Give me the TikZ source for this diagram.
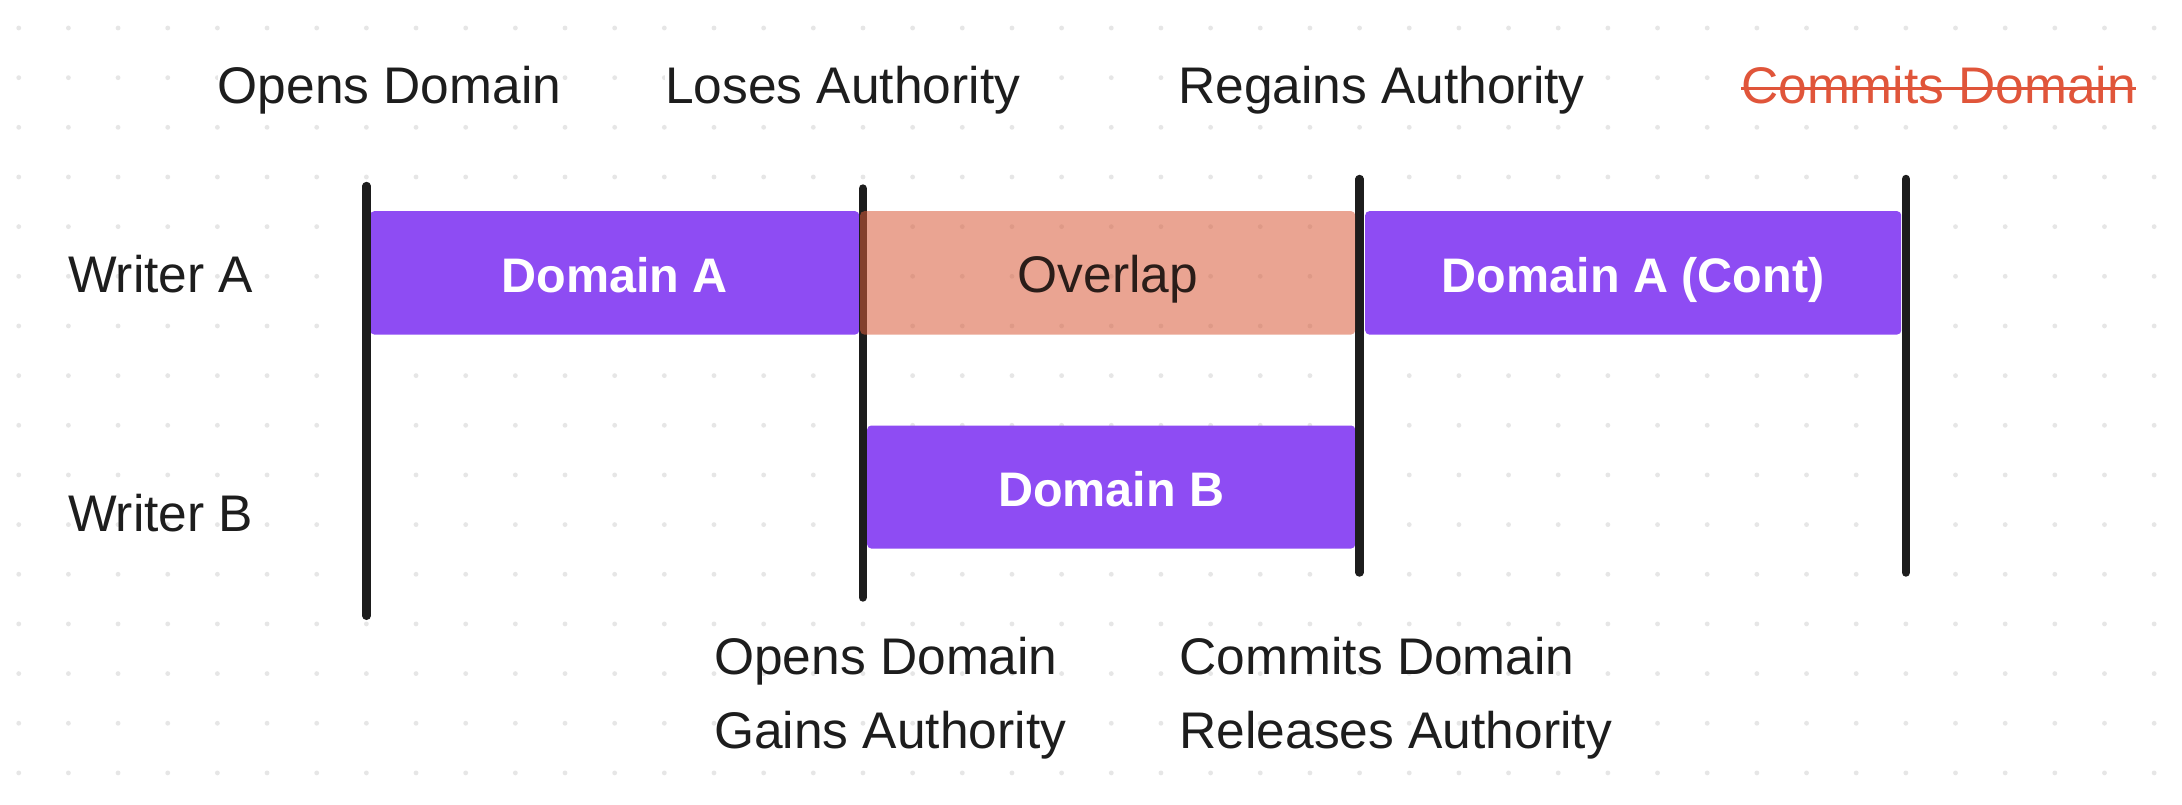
\documentclass[tikz,border=0pt]{standalone}
\usepackage{fontspec}
\setmainfont{Liberation Sans}
\definecolor{ink}{HTML}{1D1D1D}
\definecolor{purp}{HTML}{8E4CF3}
\definecolor{ovl}{HTML}{D95B39}
\definecolor{redt}{HTML}{E0553A}
\definecolor{dotc}{HTML}{E6E6E6}
\definecolor{ovtext}{HTML}{2A1D19}
\begin{document}
\begin{tikzpicture}[x=1pt,y=-1pt,
  lbl/.style={inner sep=0pt, anchor=base west, text=ink, font=\fontsize{51.5}{60}\selectfont},
  toplbl/.style={lbl, fill=white},
  bar/.style={draw=none, fill=purp, rounded corners=4pt, inner sep=0pt, anchor=north west, minimum height=123.3pt},
  barlbl/.style={inner sep=0pt, anchor=base, text=white, font=\fontsize{48.5}{58}\selectfont\bfseries},
  tick/.style={line width=8.4pt, line cap=round, draw=ink},
  strike/.style={line width=3pt, draw=redt}
  ]
  % canvas
  \fill[white] (0,0) rectangle (2182,804);
  \useasboundingbox (0,0) rectangle (2182,804);
  % dot grid
  \foreach \i in {0,...,43} {
    \foreach \j in {0,...,15} {
      \fill[dotc] (18.75+49.66*\i, 28+49.66*\j) circle (2.4pt);
    }
  }
  % bars
  \node[bar, minimum width=489pt] (barA) at (370,211) {};
  \node[bar, minimum width=536pt] (barC) at (1365,211) {};
  \node[bar, minimum width=488pt, minimum height=123pt] (barB) at (867,425.3) {};
  % timeline ticks
  \coordinate (t1a) at (366.6,186);   \coordinate (t1b) at (366.6,615.8);
  \coordinate (t2a) at (862.7,188.5); \coordinate (t2b) at (862.7,597.5);
  \coordinate (t3a) at (1359.6,179);  \coordinate (t3b) at (1359.6,572.5);
  \coordinate (t4a) at (1905.9,179);  \coordinate (t4b) at (1905.9,572.5);
  \draw[tick] (t1a) -- (t1b);
  \draw[tick] (t2a) -- (t2b);
  \draw[tick] (t3a) -- (t3b);
  \draw[tick] (t4a) -- (t4b);
  % overlap (semi-transparent, over the tick)
  \node[bar, fill=ovl, fill opacity=0.55, minimum width=495pt] (ovbar) at (860,211) {};
  % bar labels
  \node[barlbl] (lA) at ([yshift=-19.8pt]barA.center) {Domain A};
  \node[barlbl] (lC) at ([yshift=-19.8pt]barC.center) {Domain A (Cont)};
  \node[barlbl] (lB) at ([yshift=-19.5pt]barB.center) {Domain B};
  \node[lbl, anchor=base, text=ovtext] (lO) at ([yshift=-19.5pt]ovbar.center) {Overlap};
  % writer labels
  \node[lbl] (wa) at (68,292.7) {Writer A};
  \node[lbl] (wb) at (68,531.7) {Writer B};
  % top labels
  \node[toplbl] (topen) at (217.5,103) {Opens Domain};
  \node[toplbl] (tlose) at (665,103) {Loses Authority};
  \node[toplbl] (tregain) at (1178,103) {Regains Authority};
  \node[toplbl, text=redt] (tcommit) at (1741,103) {Commits Domain};
  \draw[strike] ([yshift=14.7pt]tcommit.base west) -- ([yshift=14.7pt]tcommit.base east);
  % bottom labels
  \node[lbl] (bopen) at (714,674) {Opens Domain};
  \node[lbl] (bgain) at (714,748.3) {Gains Authority};
  \node[lbl] (bcommit) at (1179.5,674) {Commits Domain};
  \node[lbl] (brel) at (1179.5,748.3) {Releases Authority};
\end{tikzpicture}
\end{document}
